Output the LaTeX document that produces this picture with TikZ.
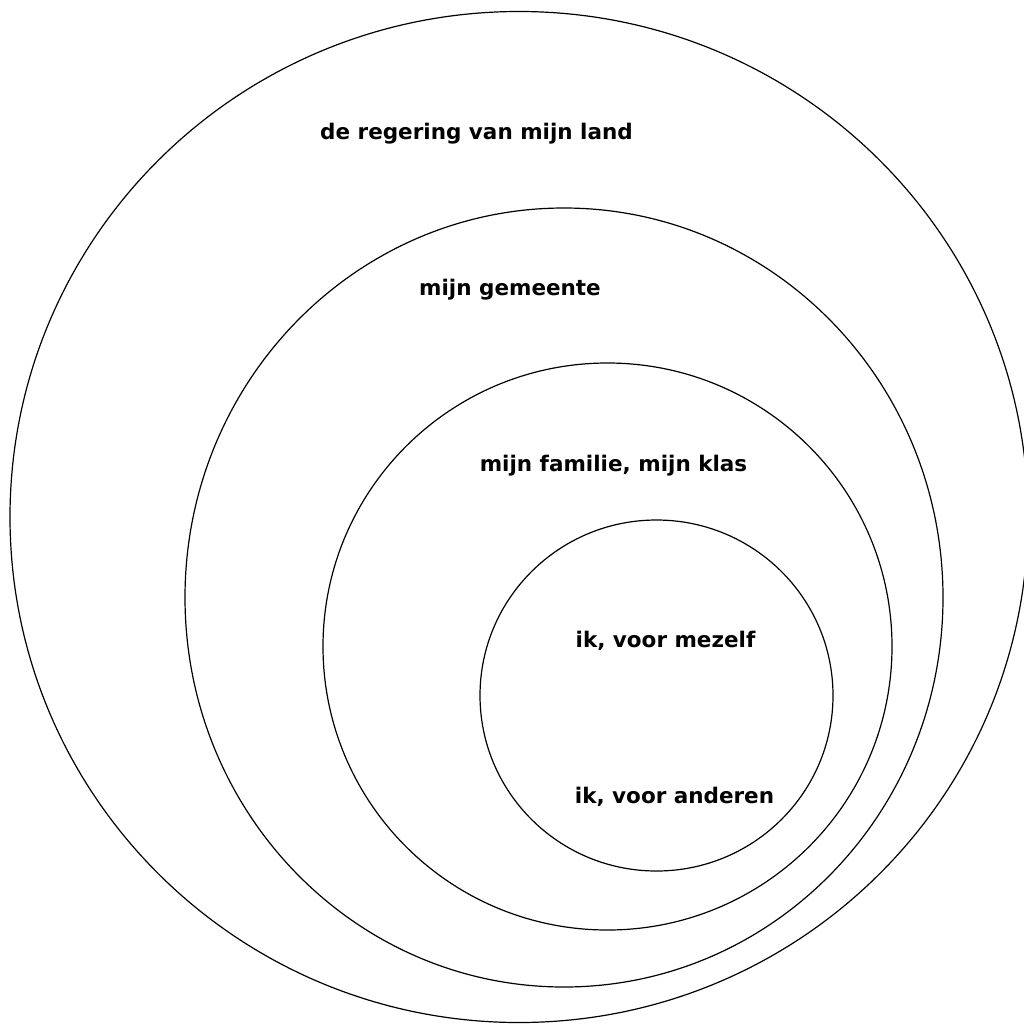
\documentclass[tikz,border=0pt]{standalone}
\usepackage{fontspec}
\setmainfont{DejaVu Sans}
\begin{document}
\begin{tikzpicture}[x=1pt,y=-1pt,
  ring/.style={draw=black,line width=1.2pt},
  lbl/.style={anchor=base,inner sep=0pt,font=\fontsize{21.5pt}{24pt}\selectfont\bfseries}]
\useasboundingbox (0,0) rectangle (1024,1023);
\clip (0,0) rectangle (1024,1023);
\fill[white] (0,0) rectangle (1024,1023);
\draw[ring] (519,517) ellipse [x radius=509, y radius=505.5];
\draw[ring] (564,597.5) ellipse [x radius=379, y radius=389.5];
\draw[ring] (607.5,646.5) ellipse [x radius=284.5, y radius=283.5];
\draw[ring] (656.5,695.5) ellipse [x radius=176.5, y radius=175.5];
\node[lbl] (land) at (476.5,139) {de regering van mijn land};
\node[lbl] (gem) at (510,295) {mijn gemeente};
\node[lbl] (fam) at (613.5,471) {mijn familie, mijn klas};
\node[lbl] (zelf) at (665.5,647) {ik, voor mezelf};
\node[lbl] (and) at (674.5,803) {ik, voor anderen};
\end{tikzpicture}
\end{document}
